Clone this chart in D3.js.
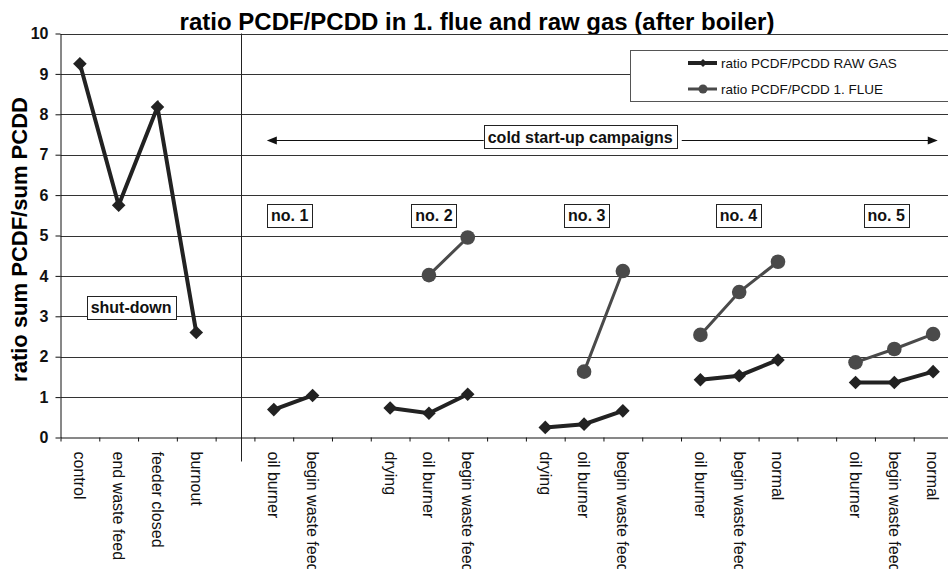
<!DOCTYPE html>
<html>
<head>
<meta charset="utf-8">
<script src="https://cdn.jsdelivr.net/npm/d3@7"></script>
<style>
  body { margin: 0; background: #fff; }
  svg { display: block; font-family: Arial, "Liberation Sans", sans-serif; }
</style>
</head>
<body>
<div id="chart"></div>
<script>
// categories along the x axis ("" = spacer between campaigns)
const categories = [
  "control", "end waste feed", "feeder closed", "burnout", "",
  "oil burner", "begin waste feed", "",
  "drying", "oil burner", "begin waste feed", "",
  "drying", "oil burner", "begin waste feed", "",
  "oil burner", "begin waste feed", "normal", "",
  "oil burner", "begin waste feed", "normal"
];
const rawGas = [
  9.25, 5.75, 8.18, 2.6, null,
  0.69, 1.04, null,
  0.73, 0.6, 1.07, null,
  0.25, 0.33, 0.66, null,
  1.43, 1.53, 1.92, null,
  1.36, 1.36, 1.63
];
const flue = [
  null, null, null, null, null,
  null, null, null,
  null, 4.02, 4.95, null,
  null, 1.63, 4.12, null,
  2.54, 3.6, 4.35, null,
  1.86, 2.19, 2.56
];
const yTicks = [0, 1, 2, 3, 4, 5, 6, 7, 8, 9, 10];
const campaigns = ["no. 1", "no. 2", "no. 3", "no. 4", "no. 5"];
const seriesNames = ["ratio PCDF/PCDD RAW GAS", "ratio PCDF/PCDD 1. FLUE"];

const width = 948, height = 569;
const plotLeft = 60.5, plotRight = 952.5, plotTop = 33.5, plotBottom = 437.5;
const n = categories.length;

const svg = d3.select("#chart").append("svg")
    .attr("width", width)
    .attr("height", height);

const xEdge = d3.scaleLinear().domain([0, n]).range([plotLeft, plotRight]);
const x = d3.scaleBand().domain(d3.range(n)).range([plotLeft, plotRight]);
const y = d3.scaleLinear().domain([0, 10]).range([plotBottom, plotTop]);
const cx = i => x(i) + x.bandwidth() / 2;

// title
svg.append("text")
    .attr("x", 477)
    .attr("y", 29.5)
    .attr("text-anchor", "middle")
    .attr("font-weight", "bold")
    .attr("font-size", 24)
    .text("ratio PCDF/PCDD in 1. flue and raw gas (after boiler)");

// gridlines
svg.append("g")
  .selectAll("line")
  .data(yTicks.slice(1))
  .join("line")
    .attr("x1", plotLeft)
    .attr("x2", width)
    .attr("y1", d => Math.round(y(d)) + 0.5)
    .attr("y2", d => Math.round(y(d)) + 0.5)
    .attr("stroke", "#333")
    .attr("stroke-width", 1);

// separator between shut-down and start-up
const sepX = Math.round(xEdge(4.66)) + 0.5;
svg.append("line")
    .attr("x1", sepX).attr("x2", sepX)
    .attr("y1", plotTop).attr("y2", plotBottom + 24)
    .attr("stroke", "#222");

// y axis
const yAxis = svg.append("g")
    .attr("transform", `translate(${plotLeft},0)`)
    .call(d3.axisLeft(y).tickValues(yTicks).tickSize(5).tickSizeOuter(0).tickPadding(7));
yAxis.selectAll("text")
    .attr("font-size", 16)
    .attr("font-weight", "bold")
    .attr("fill", "#111");
yAxis.selectAll("line, path").attr("stroke", "#111");

svg.append("text")
    .attr("transform", `translate(27,${(plotTop + plotBottom) / 2 + 4}) rotate(-90)`)
    .attr("text-anchor", "middle")
    .attr("font-weight", "bold")
    .attr("font-size", 22)
    .text("ratio sum PCDF/sum PCDD");

// x axis tick marks at category edges
const xTicks = svg.append("g")
    .attr("transform", `translate(0,${plotBottom})`)
    .call(d3.axisBottom(xEdge).tickValues(d3.range(0, n + 1)).tickFormat("").tickSize(4).tickSizeOuter(0));
xTicks.selectAll("line, path").attr("stroke", "#111");

// x labels at category centres
const xLabels = svg.append("g")
    .attr("transform", `translate(0,${plotBottom})`)
    .call(d3.axisBottom(x).tickFormat(i => categories[i]).tickSize(0));
xLabels.select(".domain").remove();
xLabels.selectAll("text")
    .attr("transform", "rotate(90)")
    .attr("x", 14)
    .attr("y", 0)
    .attr("dy", "0.35em")
    .attr("text-anchor", "start")
    .attr("font-size", 16)
    .attr("fill", "#111");

// series
const rawData = rawGas.map((v, i) => ({ i, v }));
const flueData = flue.map((v, i) => ({ i, v }));
const line = d3.line()
    .defined(d => d.v != null)
    .x(d => cx(d.i))
    .y(d => y(d.v));

const diamond = s => `M0,${-s}L${s},0L0,${s}L${-s},0Z`;

svg.append("path")
    .datum(flueData)
    .attr("fill", "none")
    .attr("stroke", "#4a4a4a")
    .attr("stroke-width", 3)
    .attr("d", line);
svg.append("g")
  .selectAll("circle")
  .data(flueData.filter(d => d.v != null))
  .join("circle")
    .attr("cx", d => cx(d.i))
    .attr("cy", d => y(d.v))
    .attr("r", 7.3)
    .attr("fill", "#4a4a4a");

svg.append("path")
    .datum(rawData)
    .attr("fill", "none")
    .attr("stroke", "#222")
    .attr("stroke-width", 4)
    .attr("d", line);
svg.append("g")
  .selectAll("path")
  .data(rawData.filter(d => d.v != null))
  .join("path")
    .attr("transform", d => `translate(${cx(d.i)},${y(d.v)})`)
    .attr("d", diamond(6.8))
    .attr("fill", "#222");

// boxed annotations
function boxedLabel(text, px, py) {
  const g = svg.append("g");
  const t = g.append("text")
      .attr("x", px)
      .attr("y", py)
      .attr("dy", "0.36em")
      .attr("text-anchor", "middle")
      .attr("font-weight", "bold")
      .attr("font-size", 16)
      .attr("fill", "#111")
      .text(text);
  const b = t.node().getBBox();
  g.insert("rect", "text")
      .attr("x", Math.round(b.x - 4) + 0.5)
      .attr("y", Math.round(py - 11.5) + 0.5)
      .attr("width", Math.round(b.width + 8))
      .attr("height", 23)
      .attr("fill", "#fff")
      .attr("stroke", "#222");
  return b;
}

boxedLabel("shut-down", xEdge(1.82), y(3.22));
const campaignPos = [5.91, 9.63, 13.57, 17.48, 21.29];
campaigns.forEach((c, k) => boxedLabel(c, xEdge(campaignPos[k]), y(5.5)));

// cold start-up arrow
const arrowY = Math.round(y(7.36)) + 0.5;
const cb = boxedLabel("cold start-up campaigns", xEdge(13.4), y(7.44));
const ax1 = xEdge(5.32), ax2 = xEdge(22.62);
const arrow = svg.append("g").attr("stroke", "#111").attr("fill", "#111");
arrow.append("line").attr("x1", ax1 + 8).attr("x2", cb.x - 4).attr("y1", arrowY).attr("y2", arrowY);
arrow.append("line").attr("x1", cb.x + cb.width + 9).attr("x2", ax2 - 8).attr("y1", arrowY).attr("y2", arrowY);
arrow.append("path").attr("stroke", "none")
    .attr("d", `M${ax1},${arrowY}L${ax1 + 10},${arrowY - 4}L${ax1 + 10},${arrowY + 4}Z`);
arrow.append("path").attr("stroke", "none")
    .attr("d", `M${ax2},${arrowY}L${ax2 - 10},${arrowY - 4}L${ax2 - 10},${arrowY + 4}Z`);

// legend
const legend = svg.append("g");
legend.append("rect")
    .attr("x", 630.5).attr("y", 50.5)
    .attr("width", 330).attr("height", 51)
    .attr("fill", "#fff")
    .attr("stroke", "#555");
const legendItems = legend.selectAll("g.item")
  .data(seriesNames)
  .join("g")
    .attr("class", "item")
    .attr("transform", (d, k) => `translate(688,${63 + k * 26})`);
legendItems.append("line")
    .attr("x1", 0).attr("x2", 29)
    .attr("stroke", (d, k) => k === 0 ? "#222" : "#4a4a4a")
    .attr("stroke-width", (d, k) => k === 0 ? 4 : 3);
legendItems.filter((d, k) => k === 0).append("path")
    .attr("transform", "translate(15,0)")
    .attr("d", diamond(4))
    .attr("fill", "#222");
legendItems.filter((d, k) => k === 1).append("circle")
    .attr("cx", 15).attr("r", 4.5)
    .attr("fill", "#4a4a4a");
legendItems.append("text")
    .attr("x", 33)
    .attr("dy", "0.36em")
    .attr("font-size", 13.5)
    .attr("fill", "#111")
    .text(d => d);
</script>
</body>
</html>
